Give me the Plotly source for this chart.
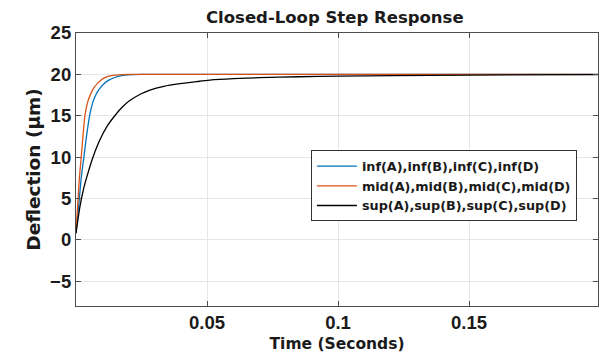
import plotly.graph_objects as go

# ---- data ----
t_inf = [0, 0.001, 0.002, 0.003, 0.004, 0.0052, 0.0065, 0.008, 0.0095, 0.011,
         0.0125, 0.015, 0.0175, 0.02, 0.025, 0.05, 0.1, 0.15, 0.2]
y_inf = [0.8, 4.0, 7.5, 10.0, 12.5, 15.0, 16.7, 17.8, 18.45, 18.95,
         19.3, 19.65, 19.85, 19.95, 20.0, 20.0, 20.0, 20.0, 20.0]

t_mid = [0, 0.0006, 0.0013, 0.002, 0.0027, 0.0034, 0.0045, 0.0057, 0.007, 0.0085,
         0.0095, 0.011, 0.013, 0.016, 0.02, 0.05, 0.1, 0.15, 0.2]
y_mid = [0.8, 4.0, 7.5, 10.0, 12.7, 15.0, 16.7, 17.7, 18.45, 19.0,
         19.3, 19.6, 19.82, 19.95, 20.0, 20.0, 20.0, 20.0, 20.0]

t_sup = [0, 0.0015, 0.003, 0.0045, 0.0065, 0.009, 0.012, 0.0148, 0.0175, 0.0204,
         0.0245, 0.0282, 0.0335, 0.0397, 0.046, 0.051, 0.06, 0.07, 0.085, 0.1,
         0.12, 0.15, 0.2]
y_sup = [0.8, 4.0, 6.3, 8.0, 10.0, 12.0, 13.8, 15.0, 16.0, 16.8,
         17.6, 18.1, 18.55, 18.87, 19.12, 19.3, 19.48, 19.6, 19.71, 19.78,
         19.85, 19.91, 19.97]

names = ["inf(A),inf(B),inf(C),inf(D)",
         "mid(A),mid(B),mid(C),mid(D)",
         "sup(A),sup(B),sup(C),sup(D)"]
colors = ["#0072BD", "#D95319", "#000000"]

x_ticks = [0.05, 0.1, 0.15]
x_labels = ["0.05", "0.1", "0.15"]
y_ticks = [-5, 0, 5, 10, 15, 20, 25]

fig = go.Figure()
for tt, yy, nm, c in zip([t_inf, t_mid, t_sup], [y_inf, y_mid, y_sup], names, colors):
    fig.add_trace(go.Scatter(x=tt, y=yy, mode="lines", name=nm,
                             line=dict(color=c, width=1.3, shape="spline", smoothing=0.6)))

axis_common = dict(showline=True, mirror="allticks", linecolor="#4d4d4d", linewidth=1.2,
                   ticks="inside", ticklen=5, tickcolor="#4d4d4d",
                   showgrid=True, gridcolor="#e6e6e6", gridwidth=1, zeroline=False,
                   tickfont=dict(family="Liberation Sans, Arial", size=18.5, color="#1a1a1a", weight="bold"))

fig.update_xaxes(range=[0, 0.1992], tickvals=x_ticks, ticktext=x_labels,
                 title=dict(text="Time (Seconds)", standoff=5,
                            font=dict(family="DejaVu Sans", size=15.5, color="#1a1a1a", weight="bold")),
                 **axis_common)
fig.update_yaxes(range=[-8, 25], tickvals=y_ticks,
                 title=dict(text="Deflection (μm)", standoff=4,
                            font=dict(family="DejaVu Sans", size=18.5, color="#1a1a1a", weight="bold")),
                 **axis_common)

fig.update_layout(
    width=600, height=353,
    margin=dict(l=76, r=2, t=33, b=47),
    paper_bgcolor="white", plot_bgcolor="white",
    title=dict(text="Closed-Loop Step Response", x=0.558, xanchor="center", y=0.95, yanchor="middle",
               font=dict(family="DejaVu Sans", size=16.5, color="#1a1a1a", weight="bold")),
    showlegend=True,
    legend=dict(x=0.45, y=0.57, xanchor="left", yanchor="top",
                bgcolor="white", bordercolor="#333333", borderwidth=1,
                itemwidth=40, tracegroupgap=0,
                font=dict(family="DejaVu Sans", size=12.8, color="#1a1a1a", weight="bold")),
)

fig.write_html("out.html")
